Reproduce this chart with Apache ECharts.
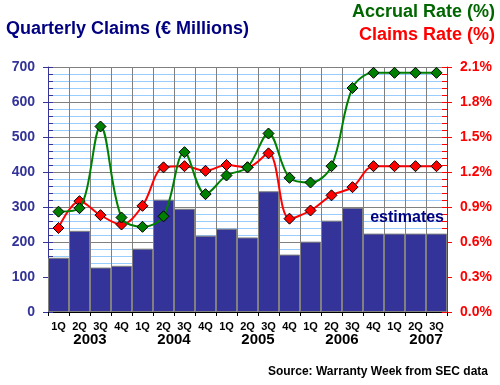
<!DOCTYPE html>
<html>
<head>
<meta charset="utf-8">
<script src="https://cdn.jsdelivr.net/npm/echarts@6/dist/echarts.min.js"></script>
<style>
html,body{margin:0;padding:0;background:#fff;}
#c{width:500px;height:385px;}
</style>
</head>
<body>
<div id="c"></div>
<script>
var quarters = ['1Q','2Q','3Q','4Q','1Q','2Q','3Q','4Q','1Q','2Q','3Q','4Q','1Q','2Q','3Q','4Q','1Q','2Q','3Q'];
var years = ['2003','2004','2005','2006','2007'];
var claims = [155,232,127,132,181,321,295,218,238,213,345,164,201,261,298,224,224,224,224];
var accrualRate = [0.86,0.89,1.59,0.81,0.73,0.82,1.37,1.01,1.17,1.24,1.53,1.15,1.11,1.25,1.92,2.05,2.05,2.05,2.05];
var claimsRate = [0.72,0.95,0.83,0.75,0.91,1.24,1.25,1.21,1.26,1.24,1.36,0.80,0.87,1.00,1.07,1.25,1.25,1.25,1.25];
var leftTicks = {min:0, max:700, interval:100};
var rightTicks = {min:0, max:2.1, interval:0.3};

// year labels sit on quarter boundaries (a boundary axis with one slot more than quarters)
var yearAxis = [];
for (var i = 0; i <= quarters.length; i++) yearAxis.push('');
years.forEach(function(y, k){ yearAxis[Math.min(2 + 4*k, quarters.length - 1)] = y; });

var FONT = 'Liberation Sans, Arial, sans-serif';
var chart = echarts.init(document.getElementById('c'), null, {renderer:'canvas'});
var grid = {left:48, right:53, top:67, bottom:73, containLabel:false};

chart.setOption({
  animation:false,
  backgroundColor:'#ffffff',
  grid: grid,
  graphic: [
    {type:'text', left:6, top:20, style:{text:'Quarterly Claims (€ Millions)', fill:'#000080', font:'bold 18px ' + FONT}},
    {type:'text', right:5, top:3, style:{text:'Accrual Rate (%)', fill:'#006600', font:'bold 18px ' + FONT}},
    {type:'text', right:5, top:26, style:{text:'Claims Rate (%)', fill:'#ff0000', font:'bold 18px ' + FONT}},
    {type:'text', right:56, top:210, z:100, style:{text:'estimates', fill:'#000080', font:'bold 16px ' + FONT}},
    {type:'text', right:12, top:366, style:{text:'Source: Warranty Week from SEC data', fill:'#000000', font:'bold 12px ' + FONT}}
  ],
  xAxis: [
    {
      type:'category', data:quarters, boundaryGap:true, position:'bottom',
      axisLine:{show:true, lineStyle:{color:'#000000', width:1}},
      axisTick:{show:true, length:4, interval:0, lineStyle:{color:'#000000'}},
      axisLabel:{interval:0, margin:9, color:'#000000', fontWeight:'bold', fontSize:11, fontFamily:FONT},
      splitLine:{show:true, interval:0, lineStyle:{color:'#808080', width:1}}
    },
    {
      type:'category', data:yearAxis, boundaryGap:false, position:'bottom', offset:0,
      axisLine:{show:false}, axisTick:{show:false}, splitLine:{show:false},
      axisLabel:{interval:0, margin:20, color:'#000000', fontWeight:'bold', fontSize:15, fontFamily:FONT}
    }
  ],
  yAxis: [
    {
      type:'value', position:'left', min:leftTicks.min, max:leftTicks.max, interval:leftTicks.interval,
      axisLine:{show:true, lineStyle:{color:'#333399', width:1}},
      axisTick:{show:true, inside:false, length:5, lineStyle:{color:'#333399'}},
      axisLabel:{margin:13, color:'#333399', fontWeight:'bold', fontSize:14, fontFamily:FONT},
      splitLine:{show:true, lineStyle:{color:'#808080', width:1}},
      minorTick:{show:false, splitNumber:5},
      minorSplitLine:{show:true, lineStyle:{color:'#99ccff', width:1}}
    },
    {
      type:'value', position:'right', min:rightTicks.min, max:rightTicks.max, interval:rightTicks.interval,
      axisLine:{show:true, lineStyle:{color:'#ff0000', width:1}},
      axisTick:{show:true, inside:false, length:5, lineStyle:{color:'#ff0000'}},
      axisLabel:{margin:13, color:'#ff0000', fontWeight:'bold', fontSize:14, fontFamily:FONT,
        formatter:function(v){return v.toFixed(1) + '%';}},
      splitLine:{show:false}
    },
    {
      type:'value', position:'left', min:leftTicks.min, max:leftTicks.max, interval:leftTicks.interval,
      axisLine:{show:false}, axisLabel:{show:false}, splitLine:{show:false},
      axisTick:{show:true, inside:true, length:5, lineStyle:{color:'#333399'}},
      minorTick:{show:true, splitNumber:5, length:5, lineStyle:{color:'#333399'}}
    },
    {
      type:'value', position:'right', min:rightTicks.min, max:rightTicks.max, interval:rightTicks.interval,
      axisLine:{show:false}, axisLabel:{show:false}, splitLine:{show:false},
      axisTick:{show:true, inside:true, length:5, lineStyle:{color:'#ff0000'}},
      minorTick:{show:true, splitNumber:5, length:5, lineStyle:{color:'#ff0000'}}
    }
  ],
  series: [
    {
      name:'Quarterly Claims', type:'bar', data:claims, xAxisIndex:0, yAxisIndex:0,
      barCategoryGap:'0%', barGap:'0%',
      itemStyle:{color:'#333399', borderColor:'#808080', borderWidth:1},
      z:2
    },
    {
      name:'Claims Rate', type:'line', data:claimsRate, xAxisIndex:0, yAxisIndex:1,
      smooth:0.35, symbol:'diamond', symbolSize:[11,11],
      lineStyle:{color:'#ff0000', width:2},
      itemStyle:{color:'#ff0000', borderColor:'#000000', borderWidth:1},
      z:3
    },
    {
      name:'Accrual Rate', type:'line', data:accrualRate, xAxisIndex:0, yAxisIndex:1,
      smooth:0.35, symbol:'diamond', symbolSize:[11,11],
      lineStyle:{color:'#008000', width:2},
      itemStyle:{color:'#008000', borderColor:'#000000', borderWidth:1},
      z:4
    }
  ]
});
</script>
</body>
</html>
